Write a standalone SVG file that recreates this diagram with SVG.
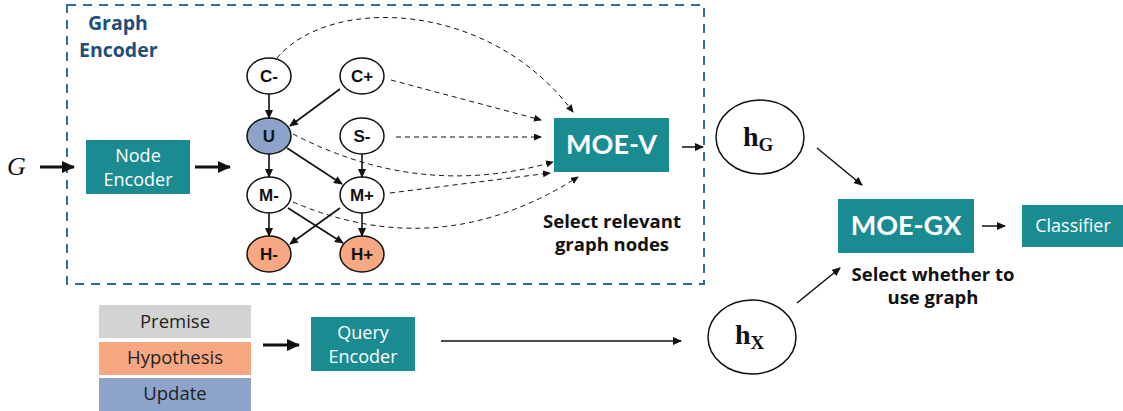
<svg xmlns="http://www.w3.org/2000/svg" width="1123" height="411" viewBox="0 0 1123 411">
<defs>
<style>
.teal{fill:#1b8b92}
.wt{fill:#fff;font-family:"Open Sans",Lato,sans-serif;font-size:18px;text-anchor:middle}
.big{fill:#fff;font-family:Lato,"Open Sans",sans-serif;font-weight:bold;font-size:27px;text-anchor:middle}
.lbl{font-family:"Open Sans",Lato,sans-serif;font-weight:bold;fill:#111;font-size:18.5px;text-anchor:middle}
.inp{font-family:"Open Sans",Lato,sans-serif;font-size:18.5px;fill:#222;text-anchor:middle}
.ge{font-family:"Open Sans",Lato,sans-serif;font-weight:bold;font-size:19.5px;fill:#1f4e79}
.node{stroke:#111;stroke-width:1.5}
.nt{font-family:"Liberation Sans",Arial,sans-serif;font-weight:bold;font-size:17px;fill:#111;text-anchor:middle}
.e{stroke:#111;stroke-width:1.6;fill:none;marker-end:url(#ah)}
.d{stroke:#111;stroke-width:1;fill:none;stroke-dasharray:5 4;marker-end:url(#ahs)}
.thick{stroke:#111;stroke-width:3;fill:none;marker-end:url(#ahb)}
.thin{stroke:#111;stroke-width:1.5;fill:none;marker-end:url(#ah)}
.h{font-family:"Liberation Serif","Times New Roman",serif;font-weight:bold;fill:#111}
</style>
<marker id="ah" markerWidth="10" markerHeight="10" refX="8" refY="4" orient="auto" markerUnits="userSpaceOnUse"><path d="M0,0 L9,4 L0,8 Z" fill="#111"/></marker>
<marker id="ahs" markerWidth="10" markerHeight="10" refX="7" refY="3.5" orient="auto" markerUnits="userSpaceOnUse"><path d="M0,0 L8,3.5 L0,7 Z" fill="#111"/></marker>
<marker id="ahb" markerWidth="14" markerHeight="14" refX="12" refY="6" orient="auto" markerUnits="userSpaceOnUse"><path d="M0,0 L13,6 L0,12 Z" fill="#111"/></marker>
</defs>
<rect width="1123" height="411" fill="#fff"/>

<g id="graph-encoder">
<rect x="67" y="5" width="637" height="279" fill="none" stroke="#2e6e9e" stroke-width="2" stroke-dasharray="9 7"/>
<text class="ge" x="88" y="30">Graph</text>
<text class="ge" x="79" y="57">Encoder</text>
</g>

<g id="G"><text x="7" y="175" font-family="'Liberation Serif',serif" font-style="italic" font-size="26" fill="#111">G</text></g>

<g id="node-encoder">
<rect class="teal" x="86" y="140" width="104" height="54"/>
<text class="wt" x="138" y="162">Node</text>
<text class="wt" x="138" y="186">Encoder</text>
</g>

<g id="n-Cm"><ellipse class="node" cx="269" cy="76" rx="22" ry="18" fill="#fff"/><text class="nt" x="269" y="82">C-</text></g>
<g id="n-Cp"><ellipse class="node" cx="362" cy="76" rx="22" ry="18" fill="#fff"/><text class="nt" x="362" y="82">C+</text></g>
<g id="n-U"><ellipse class="node" cx="269" cy="136" rx="22" ry="18" fill="#8ea3c9"/><text class="nt" x="269" y="142">U</text></g>
<g id="n-Sm"><ellipse class="node" cx="362" cy="136" rx="22" ry="18" fill="#fff"/><text class="nt" x="362" y="142">S-</text></g>
<g id="n-Mm"><ellipse class="node" cx="269" cy="195" rx="22" ry="18" fill="#fff"/><text class="nt" x="269" y="201">M-</text></g>
<g id="n-Mp"><ellipse class="node" cx="362" cy="195" rx="22" ry="18" fill="#fff"/><text class="nt" x="362" y="201">M+</text></g>
<g id="n-Hm"><ellipse class="node" cx="269" cy="254" rx="22" ry="18" fill="#f7a882"/><text class="nt" x="269" y="260">H-</text></g>
<g id="n-Hp"><ellipse class="node" cx="362" cy="254" rx="22" ry="18" fill="#f7a882"/><text class="nt" x="362" y="260">H+</text></g>

<g id="moe-v">
<rect class="teal" x="554" y="118" width="115" height="54"/>
<text class="big" x="611.5" y="154">MOE-V</text>
</g>
<g id="moe-v-label">
<text class="lbl" x="612" y="228">Select relevant</text>
<text class="lbl" x="612" y="251">graph nodes</text>
</g>

<g id="hG">
<ellipse cx="760" cy="137" rx="44" ry="37" fill="#fff" stroke="#111" stroke-width="1.5"/>
<text class="h" x="743" y="146" font-size="28">h<tspan font-size="19" dy="5">G</tspan></text>
</g>

<g id="moe-gx">
<rect class="teal" x="838" y="199" width="136" height="54"/>
<text class="big" x="906" y="235">MOE-GX</text>
</g>
<g id="moe-gx-label">
<text class="lbl" x="933" y="281">Select whether to</text>
<text class="lbl" x="933" y="304">use graph</text>
</g>

<g id="classifier">
<rect class="teal" x="1022" y="205" width="101" height="42"/>
<text class="wt" x="1073" y="232">Classifier</text>
</g>

<g id="inputs">
<rect x="99" y="305" width="152" height="33" fill="#d3d3d3"/>
<text class="inp" x="175" y="328">Premise</text>
<rect x="99" y="342" width="152" height="33" fill="#f7a882"/>
<text class="inp" x="175" y="364">Hypothesis</text>
<rect x="99" y="378" width="152" height="33" fill="#8ea3c9"/>
<text class="inp" x="175" y="400">Update</text>
</g>

<g id="query-encoder">
<rect class="teal" x="311" y="317" width="104" height="54"/>
<text class="wt" x="363" y="339">Query</text>
<text class="wt" x="363" y="363">Encoder</text>
</g>

<g id="hX">
<ellipse cx="752" cy="337" rx="44" ry="37" fill="#fff" stroke="#111" stroke-width="1.5"/>
<text class="h" x="735" y="344" font-size="28">h<tspan font-size="19" dy="5">X</tspan></text>
</g>

<g id="connectors">
<line class="thick" x1="40" y1="167" x2="74" y2="167"/>
<line class="thick" x1="195" y1="167" x2="230" y2="167"/>
<line class="e" x1="269" y1="94" x2="269" y2="118"/>
<line class="e" x1="340" y1="89" x2="290" y2="126"/>
<line class="e" x1="269" y1="154" x2="269" y2="177"/>
<line class="e" x1="287" y1="148" x2="342" y2="184"/>
<line class="e" x1="362" y1="154" x2="362" y2="177"/>
<line class="e" x1="269" y1="213" x2="269" y2="236"/>
<line class="e" x1="288" y1="208" x2="343" y2="243"/>
<line class="e" x1="340" y1="208" x2="290" y2="244"/>
<line class="e" x1="362" y1="213" x2="362" y2="236"/>
<path class="d" d="M277,58 C330,-5 490,0 573,112"/>
<path class="d" d="M391,80 L541,120"/>
<path class="d" d="M396,137 L541,137"/>
<path class="d" d="M293,134 Q420,200 553,162"/>
<path class="d" d="M390,193 L550,173"/>
<path class="d" d="M293,202 Q440,265 578,177"/>
<line class="thin" x1="682" y1="147" x2="703" y2="147"/>
<line class="thin" x1="817" y1="148" x2="862" y2="185"/>
<line class="thin" x1="982" y1="226" x2="1005" y2="226"/>
<line class="thick" x1="263" y1="345" x2="299" y2="345"/>
<line class="thin" x1="441" y1="341" x2="681" y2="341"/>
<line class="thin" x1="797" y1="303" x2="840" y2="268"/>
</g>
</svg>
